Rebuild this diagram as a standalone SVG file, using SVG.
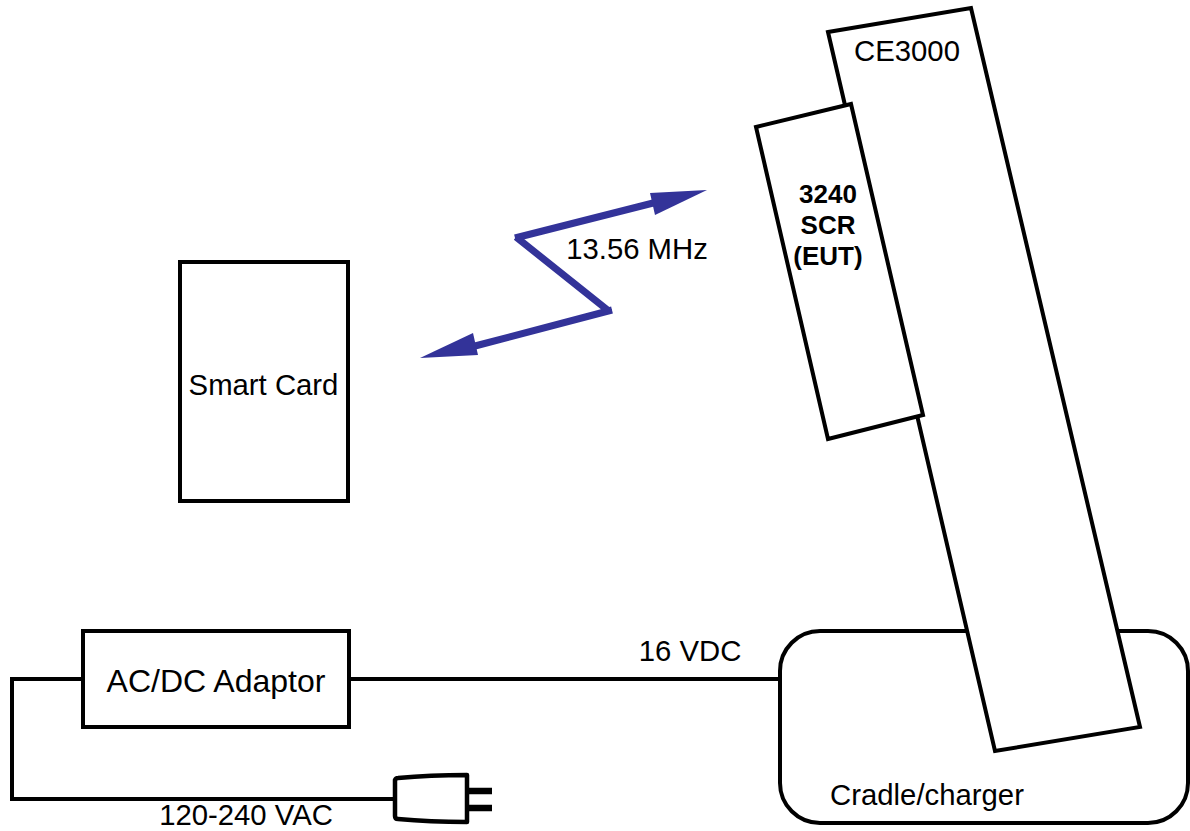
<svg xmlns="http://www.w3.org/2000/svg" width="1190" height="831" viewBox="0 0 1190 831">
<style>
.s{fill:#fff;stroke:#000;stroke-width:4}
.l{fill:none;stroke:#000;stroke-width:4}
.b{fill:none;stroke:#333399;stroke-width:7}
text{font-family:"Liberation Sans",Arial,sans-serif;font-size:29.3px;fill:#000}
.h{fill:#333399}
</style>
<rect width="1190" height="831" fill="#fff"/>
<g id="connectors">
<path class="l" d="M351 679H779"/>
<path class="l" d="M83 679H12V799H396"/>
<path class="b" d="M515 238L665 200M516 237L610 312M612 310L475 346"/>
<polygon class="h" points="420,358 473,333 478,355"/>
<polygon class="h" points="707,190 650,193 655,215"/>
</g>
<g id="smart-card"><rect class="s" x="180" y="262" width="168" height="239"/><text x="263.500" y="395" text-anchor="middle">Smart Card</text></g>
<g id="adaptor"><rect class="s" x="83" y="631" width="266" height="96"/><text x="216" y="692" text-anchor="middle" style="font-size:32px">AC/DC Adaptor</text></g>
<g id="cradle"><rect class="s" x="780" y="631" width="408" height="192" rx="40"/><text x="927" y="805" text-anchor="middle">Cradle/charger</text></g>
<g id="ce3000"><polygon class="s" points="828,32 971,8 1140,727 995,751"/><text x="907" y="61" text-anchor="middle">CE3000</text></g>
<g id="scr"><polygon class="s" points="756,127 851,104 923,415 828,439"/><text font-weight="bold" text-anchor="middle" style="font-size:26px"><tspan x="828" y="203">3240</tspan><tspan x="828" y="234">SCR</tspan><tspan x="828" y="265">(EUT)</tspan></text></g>
<g id="plug"><path class="s" stroke-linejoin="round" style="stroke-width:4.500" d="M395 780Q396 778 398 778Q430 775 467 775V822Q430 822 398 819Q395 819 395 816Z"/><path class="l" style="stroke-width:6.500" d="M467 791H492M467 808H492"/></g>
<text x="637" y="259" text-anchor="middle">13.56 MHz</text>
<text x="690" y="661" text-anchor="middle">16 VDC</text>
<text x="246" y="825" text-anchor="middle">120-240 VAC</text>
</svg>
